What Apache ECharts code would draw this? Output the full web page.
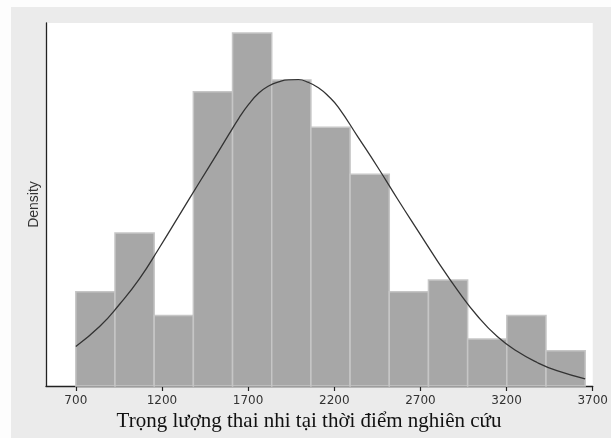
<!DOCTYPE html>
<html><head><meta charset="utf-8">
<script src="https://cdn.jsdelivr.net/npm/echarts@6/dist/echarts.min.js"></script>
<style>html,body{margin:0;padding:0;background:#fff}#c{width:611px;height:438px}</style>
</head><body><div id="c"></div>
<script>
// Histogram bins (grams)
const binStart = 700;
const binWidth = 227.4;
const frequency = [8, 13, 6, 25, 30, 26, 22, 18, 8, 9, 4, 6, 3];
// Overlaid normal curve (in expected-frequency units)
const curveX = [700, 838, 954, 1069, 1185, 1300, 1415, 1531, 1589, 1646, 1704, 1762, 1819, 1877, 1935, 1992, 2050, 2108, 2165, 2223, 2338, 2454, 2569, 2685, 2800, 2915, 3031, 3146, 3261, 3377, 3492, 3656];
const curveFreq = [3.36, 5.05, 6.95, 9.1, 11.75, 14.5, 17.25, 20.0, 21.4, 22.75, 23.95, 24.9, 25.5, 25.85, 26.02, 26.03, 25.8, 25.35, 24.65, 23.7, 21.15, 18.55, 15.85, 13.2, 10.6, 8.15, 5.95, 4.2, 2.95, 2.0, 1.3, 0.61];
const xTickLabels = [700, 1200, 1700, 2200, 2700, 3200, 3700];
const xTitle = 'Trọng lượng thai nhi tại thời điểm nghiên cứu';
const yTitle = 'Density';

const N = frequency.reduce((a, b) => a + b, 0);
const toDensity = f => f / (N * binWidth);
const barData = frequency.map((f, i) => [binStart + i * binWidth, binStart + (i + 1) * binWidth, toDensity(f)]);
const curveData = curveX.map((x, i) => [x, toDensity(curveFreq[i])]);

const chart = echarts.init(document.getElementById('c'), null, {renderer: 'canvas'});
chart.setOption({
  backgroundColor: '#ebebeb',
  animation: false,
  grid: {left: 46, right: 15, top: 23, bottom: 52, show: true, backgroundColor: '#ffffff', borderWidth: 0},
  xAxis: {
    type: 'value', min: 527, max: 3700,
    axisLine: {show: true, onZero: false, lineStyle: {color: '#222', width: 1.3}},
    axisTick: {show: true, customValues: xTickLabels, length: 5, lineStyle: {color: '#222', width: 1.2}},
    axisLabel: {show: true, customValues: xTickLabels, formatter: v => String(v), color: '#333', fontSize: 12, fontFamily: 'DejaVu Sans', margin: 9},
    splitLine: {show: false}
  },
  yAxis: {
    type: 'value', min: 0, max: toDensity(30.85),
    name: yTitle, nameLocation: 'middle', nameGap: 5,
    nameTextStyle: {color: '#333', fontSize: 14, fontFamily: 'Liberation Sans'},
    axisLine: {show: true, lineStyle: {color: '#222', width: 1.3}},
    axisTick: {show: false}, axisLabel: {show: false}, splitLine: {show: false}
  },
  graphic: [
    {type: 'rect', left: 0, top: 0, shape: {width: 11, height: 438}, style: {fill: '#fdfdfd'}},
    {type: 'rect', left: 0, top: 0, shape: {width: 611, height: 7}, style: {fill: '#fdfdfd'}},
    {type: 'text', x: 309, y: 421, style: {text: xTitle, font: '21px "Liberation Serif"', fill: '#111', textAlign: 'center', textVerticalAlign: 'middle'}}
  ],
  series: [
    {
      type: 'custom',
      data: barData,
      encode: {x: [0, 1], y: 2},
      renderItem: function (params, api) {
        const p0 = api.coord([api.value(0), api.value(2)]);
        const p1 = api.coord([api.value(1), 0]);
        return {type: 'rect', shape: {x: p0[0], y: p0[1], width: p1[0] - p0[0], height: p1[1] - p0[1]},
          style: {fill: '#a7a7a7', stroke: '#c6c6c6', lineWidth: 1.5}};
      },
      z: 2
    },
    {
      type: 'line', data: curveData, smooth: 0.5, showSymbol: false, symbol: 'none',
      lineStyle: {color: '#333', width: 1.3}, z: 3
    }
  ]
});
</script></body></html>
